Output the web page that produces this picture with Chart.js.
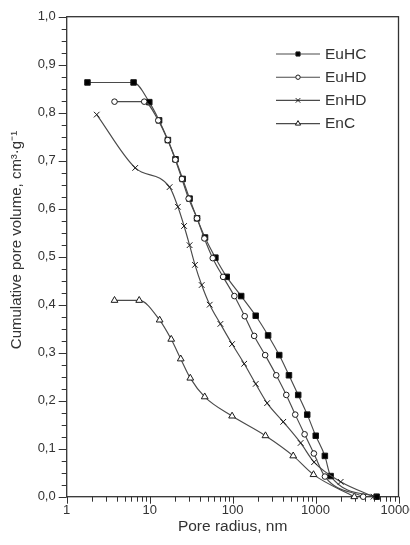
<!DOCTYPE html>
<html>
<head>
<meta charset="utf-8">
<script src="https://cdn.jsdelivr.net/npm/chart.js@4"></script>
<style>
html,body{margin:0;padding:0;background:#fff;}
#wrap{width:410px;height:545px;}
</style>
</head>
<body>
<div id="wrap"><canvas id="c" width="410" height="545"></canvas></div>
<script>
// ---- data ----
const seriesNames = ['EuHC', 'EuHD', 'EnHD', 'EnC'];

const radiusEuHC = [1.78, 6.4, 9.9, 13.0, 16.6, 20.5, 25.0, 30.3, 37.3, 46.5, 62, 85, 127, 190, 268, 365, 478, 618, 794, 1005, 1295, 1520, 5450];
const volumeEuHC = [0.863, 0.863, 0.822, 0.784, 0.743, 0.703, 0.662, 0.621, 0.580, 0.540, 0.498, 0.458, 0.418, 0.377, 0.336, 0.295, 0.253, 0.212, 0.171, 0.127, 0.085, 0.043, 0.0];

const radiusEuHD = [3.77, 8.6, 12.7, 16.5, 20.4, 24.5, 29.5, 37.2, 45.7, 57.6, 76.8, 105, 140, 182, 247, 336, 444, 569, 738, 955, 1297, 3750];
const volumeEuHD = [0.823, 0.823, 0.784, 0.743, 0.702, 0.662, 0.621, 0.580, 0.538, 0.497, 0.458, 0.418, 0.376, 0.335, 0.295, 0.253, 0.212, 0.171, 0.130, 0.090, 0.042, 0.0];

const radiusEnHD = [2.3, 6.7, 17.4, 21.9, 26, 30.3, 35.2, 42.4, 53, 71.3, 98.6, 138, 190, 261, 408, 661, 960, 2010, 5000];
const volumeEnHD = [0.796, 0.685, 0.645, 0.604, 0.564, 0.524, 0.483, 0.441, 0.400, 0.360, 0.318, 0.277, 0.235, 0.195, 0.156, 0.112, 0.072, 0.031, 0.0];

const radiusEnC = [3.77, 7.48, 13.2, 18.2, 23.7, 30.9, 46.1, 98.6, 249, 538, 945, 2930];
const volumeEnC = [0.409, 0.409, 0.368, 0.328, 0.287, 0.247, 0.208, 0.168, 0.127, 0.085, 0.046, 0.0];

const xTickLabels = ['1', '10', '100', '1000', '10000'];
const yTickValues = [0, 0.1, 0.2, 0.3, 0.4, 0.5, 0.6, 0.7, 0.8, 0.9, 1.0];

// ---- build chart ----
const FONT = "'Liberation Sans', Arial, Helvetica, sans-serif";
const LINE = '#4a4a4a';
const INK = '#1a1a1a';

function pts(xs, ys){ return xs.map((x,i)=>({x:x, y:ys[i]})); }

const styles = [
  {pointStyle:'rect', radius:3.9, bg:'#000', lr:2.9, order:3},
  {pointStyle:'circle', radius:2.8, bg:'#fff', lr:2.2, order:0},
  {pointStyle:'crossRot', radius:4.0, bg:'#fff', lr:3.2, order:1},
  {pointStyle:'triangle', radius:3.9, bg:'#fff', lr:3.0, order:2}
];
const xs = [radiusEuHC, radiusEuHD, radiusEnHD, radiusEnC];
const ys = [volumeEuHC, volumeEuHD, volumeEnHD, volumeEnC];

const datasets = seriesNames.map((n,i)=>({
  label: n,
  data: pts(xs[i], ys[i]),
  order: styles[i].order,
  borderColor: LINE,
  borderWidth: 1.15,
  cubicInterpolationMode: 'monotone',
  pointStyle: styles[i].pointStyle,
  pointRadius: styles[i].radius,
  pointBackgroundColor: styles[i].bg,
  pointBorderColor: INK,
  pointBorderWidth: 1,
  fill: false,
  clip: false
}));

function drawMarker(ctx, style, x, y, r, bg){
  ctx.save();
  ctx.lineWidth = 1;
  ctx.strokeStyle = INK;
  ctx.fillStyle = bg;
  ctx.beginPath();
  if (style === 'rect'){
    const s = Math.SQRT1_2 * r;
    ctx.rect(x - s, y - s, 2*s, 2*s);
    ctx.fill(); ctx.stroke();
  } else if (style === 'circle'){
    ctx.arc(x, y, r, 0, Math.PI*2);
    ctx.fill(); ctx.stroke();
  } else if (style === 'crossRot'){
    const s = Math.SQRT1_2 * r;
    ctx.moveTo(x-s, y-s); ctx.lineTo(x+s, y+s);
    ctx.moveTo(x+s, y-s); ctx.lineTo(x-s, y+s);
    ctx.stroke();
  } else if (style === 'triangle'){
    ctx.moveTo(x, y - r);
    ctx.lineTo(x + r*Math.sin(Math.PI/3), y + r*0.5);
    ctx.lineTo(x - r*Math.sin(Math.PI/3), y + r*0.5);
    ctx.closePath();
    ctx.fill(); ctx.stroke();
  }
  ctx.restore();
}

const framePlugin = {
  id: 'frame',
  beforeDatasetsDraw(chart){
    const {ctx, chartArea:a, scales} = chart;
    ctx.save();
    ctx.strokeStyle = '#333';
    ctx.lineWidth = 1.3;
    ctx.strokeRect(a.left, a.top, a.right - a.left, a.bottom - a.top);
    // y ticks (outward): major 0.1, minor 0.025
    const y = scales.y;
    ctx.lineWidth = 1;
    ctx.beginPath();
    for (let k = 0; k <= 40; k++){
      const v = k * 0.025;
      const py = Math.round(y.getPixelForValue(v)) + 0.5;
      const len = (k % 4 === 0) ? 8 : 5;
      ctx.moveTo(a.left, py); ctx.lineTo(a.left - len, py);
    }
    // x ticks (outward, downward): majors at decades, minors 2..9
    const x = scales.x;
    for (let d = 0; d < 4; d++){
      for (let m = 1; m <= 9; m++){
        const v = m * Math.pow(10, d);
        const px = Math.round(x.getPixelForValue(v)) + 0.5;
        const len = (m === 1) ? 7 : 5;
        ctx.moveTo(px, a.bottom); ctx.lineTo(px, a.bottom + len);
      }
    }
    const pxe = Math.round(x.getPixelForValue(10000)) + 0.5;
    ctx.moveTo(pxe, a.bottom); ctx.lineTo(pxe, a.bottom + 7);
    ctx.stroke();
    ctx.restore();
  },
  afterDraw(chart){
    const {ctx} = chart;
    // y axis title
    ctx.save();
    ctx.fillStyle = '#333';
    ctx.font = '15px ' + FONT;
    ctx.textAlign = 'center';
    ctx.textBaseline = 'middle';
    ctx.translate(16.5, 240);
    ctx.rotate(-Math.PI/2);
    ctx.fillText('Cumulative pore volume, cm³·g⁻¹', 0, 0);
    ctx.restore();
    // legend
    const lx0 = 276, lx1 = 320, mx = 298, tx = 325, y0 = 54, dy = 23.2;
    chart.data.datasets.forEach((ds, i) => {
      const yy = y0 + i*dy;
      ctx.save();
      ctx.strokeStyle = LINE;
      ctx.lineWidth = 1.15;
      ctx.beginPath();
      ctx.moveTo(lx0, yy); ctx.lineTo(lx1, yy);
      ctx.stroke();
      ctx.restore();
      drawMarker(ctx, styles[i].pointStyle, mx, yy, styles[i].lr, styles[i].bg);
      ctx.save();
      ctx.fillStyle = '#333';
      ctx.font = '15.5px ' + FONT;
      ctx.textAlign = 'left';
      ctx.textBaseline = 'middle';
      ctx.fillText(ds.label, tx, yy + 0.5);
      ctx.restore();
    });
  }
};

new Chart(document.getElementById('c'), {
  type: 'line',
  data: { datasets },
  options: {
    responsive: false,
    animation: false,
    devicePixelRatio: 1,
    layout: { padding: { left: 0, right: 11.5, top: 16.7, bottom: 0 } },
    plugins: { legend: { display: false }, tooltip: { enabled: false } },
    scales: {
      x: {
        type: 'logarithmic',
        min: 1, max: 10000,
        grid: { display: false, drawTicks: false },
        border: { display: false },
        ticks: {
          autoSkip: false, maxRotation: 0, minRotation: 0, padding: 6,
          color: '#333', font: { family: FONT, size: 13 },
          callback(v){
            const l = Math.log10(v);
            if (Math.abs(l - Math.round(l)) < 1e-9) return xTickLabels[Math.round(l)];
            return '';
          }
        },
        title: { display: true, text: 'Pore radius, nm', color: '#333',
                 font: { family: FONT, size: 15.5 }, padding: { top: 0, bottom: 9 } },
        afterFit(s){ s.height = 48.3; s.paddingRight = 0; s.paddingLeft = 0; }
      },
      y: {
        type: 'linear',
        min: 0, max: 1,
        grid: { display: false, drawTicks: false },
        border: { display: false },
        afterBuildTicks(s){ s.ticks = yTickValues.map(v => ({value: v})); },
        ticks: {
          padding: 11, color: '#333', font: { family: FONT, size: 13 },
          callback(v){ return v.toFixed(1).replace('.', ','); }
        },
        afterFit(s){ s.width = 66.7; s.paddingTop = 0; s.paddingBottom = 0; }
      }
    }
  },
  plugins: [framePlugin]
});
</script>
</body>
</html>
